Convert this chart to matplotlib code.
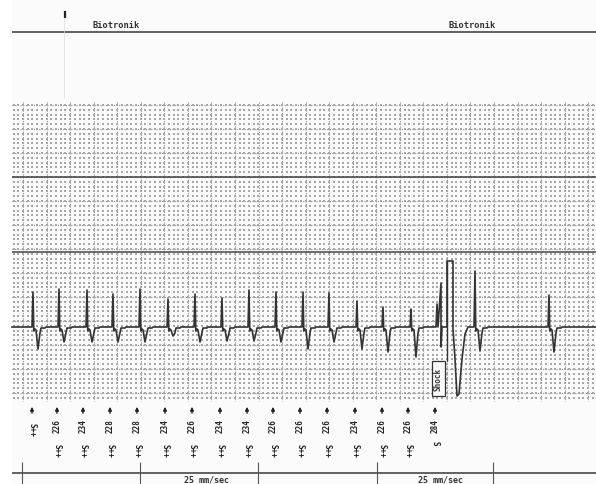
import matplotlib.pyplot as plt
import numpy as np

W, H = 596, 485
BASE = 328

# paced beats before the shock: spike position, spike top, bottom of the negative wave
beat_x = [33, 59, 87, 113, 140, 168, 195, 222, 249, 276, 303, 329, 357, 383, 411]
beat_top = [293, 290, 291, 295, 290, 300, 295, 299, 291, 293, 293, 294, 302, 308, 310]
beat_low = [350, 343, 343, 343, 343, 337, 343, 342, 342, 343, 350, 343, 350, 353, 358]

# beats after the shock
post_x = [475, 549]
post_top = [272, 296]
post_low = [352, 353]

# shock: pre-spike, tall spike, pulse rectangle, big negative deflection
shock_x = [436, 437, 438, 441, 441, 442, 447, 447, 453, 453, 455, 457, 459, 462, 465, 468]
shock_y = [BASE, 305, BASE, 284, 348, BASE, BASE, 262, 262, 330, 360, 397, 395, 360, 335, BASE]

# markers below the strip
marker_x = [32, 57, 83, 110, 137, 165, 192, 220, 247, 273, 300, 327, 355, 382, 408, 435]
marker_ms = ["", "226", "234", "228", "228", "234", "226", "234", "234", "226",
             "226", "226", "234", "226", "226", "284"]
marker_code = ["S++"] * 15 + ["S"]


def beat(x, top, low):
    xs = [x - 1, x, x + 0.8, x + 2, x + 3, x + 5, x + 7, x + 8, x + 12, x + 13]
    ys = [BASE, top, BASE + 4, BASE + 2, BASE + 3, low, BASE + 6, BASE + 1, BASE + 1, BASE]
    return xs, ys


tx, ty = [12], [BASE]
for x, t, l in zip(beat_x, beat_top, beat_low):
    xs, ys = beat(x, t, l)
    tx += xs
    ty += ys
tx += shock_x
ty += shock_y
for x, t, l in zip(post_x, post_top, post_low):
    xs, ys = beat(x, t, l)
    tx += xs
    ty += ys
tx.append(596)
ty.append(BASE)

fig = plt.figure(figsize=(W / 100, H / 100), dpi=100)
ax = fig.add_axes([0, 0, 1, 1])
ax.set_xlim(0, W)
ax.set_ylim(H, 0)
ax.axis("off")

# paper
ax.add_patch(plt.Rectangle((12, 0), W - 12, H, color="#fbfbfb", zorder=0))

# grid
gx0, gx1, gy0, gy1 = 12, 596, 103, 402
major_dx, major_dy = 23.55, 24.0
vx = np.arange(23, gx1, major_dx)
hy = np.arange(106, gy1, major_dy)
ax.vlines(vx, gy0, gy1, colors="#8a8a8a", lw=0.8, linestyles=(0, (1, 1.4)), zorder=1)
ax.hlines(hy, gx0, gx1, colors="#8a8a8a", lw=0.8, linestyles=(0, (1, 1.4)), zorder=1)
mx = np.arange(23 - 2 * major_dx / 5, gx1, major_dx / 5)
my = np.arange(106 - major_dy / 5, gy1, major_dy / 5)
MX, MY = np.meshgrid(mx[mx > gx0], my[my > gy0])
ax.scatter(MX.ravel(), MY.ravel(), s=1.6, c="#a8a8a8", marker="s", linewidths=0, zorder=1)

# solid channel lines
ax.hlines([178, 253], gx0, gx1, colors="#444444", lw=1.1, zorder=2)

# header
ax.hlines(33, 12, 596, colors="#555555", lw=1.3)
ax.vlines(65, 12, 19, colors="#222222", lw=1.6)
ax.vlines(64, 19, 100, colors="#dddddd", lw=0.5)
for x in [116, 472]:
    ax.text(x, 25, "Biotronik", ha="center", va="center", fontsize=6.3,
            family="DejaVu Sans Mono", fontweight="bold", color="#333333")

# ecg trace
ax.plot(tx, ty, color="#333333", lw=1.2, zorder=3)
ax.vlines(447, 262, 362, colors="#333333", lw=1.0, zorder=3)

# shock box
ax.add_patch(plt.Rectangle((432, 362), 13, 35, fc="#fbfbfb", ec="#333333", lw=0.9, zorder=4))
ax.text(438.5, 379.5, "Shock", rotation=90, ha="center", va="center", fontsize=5.5,
        family="DejaVu Sans Mono", fontweight="bold", color="#333333", zorder=4)

# markers
for x, ms, code in zip(marker_x, marker_ms, marker_code):
    ax.annotate("", xy=(x, 405), xytext=(x, 417),
                arrowprops=dict(arrowstyle="-|>", lw=1.0, color="#222222", mutation_scale=5))
    if ms:
        ax.text(x, 426, ms, rotation=90, ha="center", va="center", fontsize=5.5,
                family="DejaVu Sans Mono", fontweight="bold", color="#222222")
        ax.text(x, 451 if code == "S++" else 443, code, rotation=-90, ha="center",
                va="center", fontsize=5.5, family="DejaVu Sans Mono", fontweight="bold",
                color="#222222")
    else:
        ax.text(x, 430, code, rotation=-90, ha="center", va="center", fontsize=5.5,
                family="DejaVu Sans Mono", fontweight="bold", color="#222222")

# footer
ax.hlines(474, 12, 596, colors="#555555", lw=1.3)
ax.vlines([22, 140, 258, 377, 493], 463, 485, colors="#555555", lw=0.8)
for x in [206, 440]:
    ax.text(x, 480.5, "25 mm/sec", ha="center", va="center", fontsize=6.0,
            family="DejaVu Sans Mono", fontweight="bold", color="#333333")

fig.savefig("out.png", dpi=100)
